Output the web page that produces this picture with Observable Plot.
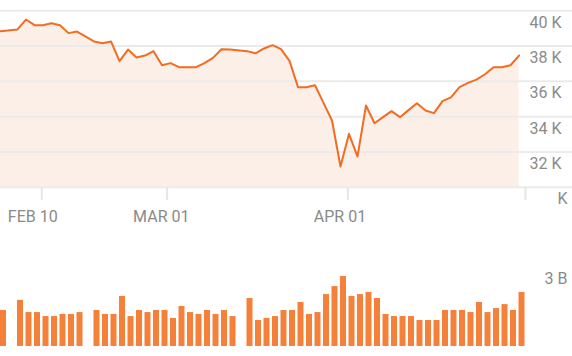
<!DOCTYPE html>
<html><head><meta charset="utf-8">
<script src="https://cdn.jsdelivr.net/npm/d3@7"></script>
<script src="https://cdn.jsdelivr.net/npm/@observablehq/plot@0.6"></script>
<style>
html,body{margin:0;padding:0;background:#fff;}
#chart{width:572px;height:356px;overflow:hidden;}
#chart svg{display:block;}
</style></head><body><div id="chart"></div>
<script>
// Trading sessions (weekdays; holidays kept as empty slots)
const sessions = [
  "2025-02-10","2025-02-11","2025-02-12","2025-02-13","2025-02-14","2025-02-17","2025-02-18","2025-02-19","2025-02-20","2025-02-21",
  "2025-02-24","2025-02-25","2025-02-26","2025-02-27","2025-02-28","2025-03-03","2025-03-04","2025-03-05","2025-03-06","2025-03-07",
  "2025-03-10","2025-03-11","2025-03-12","2025-03-13","2025-03-14","2025-03-17","2025-03-18","2025-03-19","2025-03-20","2025-03-21",
  "2025-03-24","2025-03-25","2025-03-26","2025-03-27","2025-03-28","2025-03-31","2025-04-01","2025-04-02","2025-04-03","2025-04-04",
  "2025-04-07","2025-04-08","2025-04-09","2025-04-10","2025-04-11","2025-04-14","2025-04-15","2025-04-16","2025-04-17","2025-04-18",
  "2025-04-21","2025-04-22","2025-04-23","2025-04-24","2025-04-25","2025-04-28","2025-04-30","2025-05-01","2025-05-02","2025-05-07",
  "2025-05-08","2025-05-09"
];
const closeValues = [
  38840, null, 38940, 39500, 39180, 39180, 39290, 39180, 38730, 38820,
  null, 38260, 38160, 38260, 37140, 37800, 37350, 37460, 37710, 36910,
  37030, 36800, 36800, 36800, 37030, 37330, 37820, 37800, null, 37710,
  37590, 37860, 38050, 37820, 37160, 35670, 35670, 35780, 34780, 33780,
  31180, 33030, 31740, 34630, 33630, 33970, 34310, 33970, 34370, 34760,
  34350, 34200, 34880, 35090, 35670, 35910, 36100, 36400, 36800, 36800,
  36910, 37460
];
const volumeBillions = [
  1.36, null, 1.74, 1.28, 1.28, 1.13, 1.13, 1.21, 1.21, 1.28,
  null, 1.36, 1.21, 1.21, 1.89, 1.13, 1.36, 1.28, 1.36, 1.36,
  1.06, 1.51, 1.28, 1.21, 1.36, 1.21, 1.36, 1.13, null, 1.81,
  0.98, 1.06, 1.13, 1.36, 1.36, 1.66, 1.21, 1.28, 1.96, 2.26,
  2.64, 1.89, 1.96, 2.04, 1.81, 1.21, 1.13, 1.13, 1.13, 0.98,
  0.98, 0.98, 1.36, 1.36, 1.36, 1.28, 1.66, 1.28, 1.43, 1.58,
  1.36, 2.04
];
const priceTicks = [32000, 34000, 36000, 38000, 40000];
const priceTickLabels = ["32 K", "34 K", "36 K", "38 K", "40 K"];
const baseTick = [30000];
const baseTickLabel = ["K"];
const volumeTicks = [3];
const volumeTickLabels = ["3 B"];
const dateTickAt = [4.86, 19.6, 40.86, 61.76];   // session-index positions of the date ticks
const dateTickLabels = ["FEB 10", "MAR 01", "APR 01", ""];

const rows = sessions.map((date, i) => ({i, date, close: closeValues[i], volume: volumeBillions[i]}));
const priceRows = rows.filter(d => d.close != null);
const volumeRows = rows.filter(d => d.volume != null);

const W = 572, STEP = 8.5;
const xScale = {type: "linear", domain: [0, W / STEP], range: [0, W]};
const gray = "#8a8a8a";
const style = {fontFamily: "Roboto, sans-serif", fontSize: "16px", color: gray, background: "#fff", overflow: "visible"};

const priceChart = Plot.plot({
  width: W, height: 230, marginLeft: 0, marginRight: 0, marginTop: 10, marginBottom: 43,
  style,
  x: {...xScale, label: null},
  y: {domain: [30000, 40000], range: [186.8, 10.2], axis: null},
  marks: [
    Plot.areaY(priceRows, {x: "i", y1: 30000, y2: "close", fill: "#fcefe7"}),
    Plot.ruleY([...baseTick, ...priceTicks], {stroke: "#ebebeb", strokeWidth: 2}),
    Plot.lineY(priceRows, {x: "i", y: "close", stroke: "#f26c21", strokeWidth: 2}),
    Plot.axisX(dateTickAt, {tickSize: 13, stroke: "#e6e6e6", strokeWidth: 2, tickFormat: () => "", label: null}),
    Plot.text(dateTickAt, {x: d => d, text: dateTickLabels, frameAnchor: "bottom", lineAnchor: "top", textAnchor: "start", dx: -34, dy: 23, fill: gray}),
    Plot.text(priceTicks, {y: d => d, text: priceTickLabels, frameAnchor: "right", textAnchor: "end", dx: -11, dy: 12, fill: gray}),
    Plot.text(baseTick, {y: d => d, text: baseTickLabel, frameAnchor: "right", textAnchor: "end", dx: -5, dy: 12, fill: gray})
  ]
});

const volumeChart = Plot.plot({
  width: W, height: 126, margin: 0,
  style,
  x: {...xScale, axis: null},
  y: {domain: [0, 3], range: [116, 36.5], axis: null},
  marks: [
    Plot.rectY(volumeRows, {x1: "i", x2: d => d.i + 6 / STEP, y1: 0, y2: "volume", fill: "#f5803a"}),
    Plot.text(volumeTicks, {y: d => d, text: volumeTickLabels, frameAnchor: "right", textAnchor: "end", dx: -5, dy: 12, fill: gray})
  ]
});

const host = document.getElementById("chart");
host.append(priceChart, volumeChart);
</script>
</body></html>
